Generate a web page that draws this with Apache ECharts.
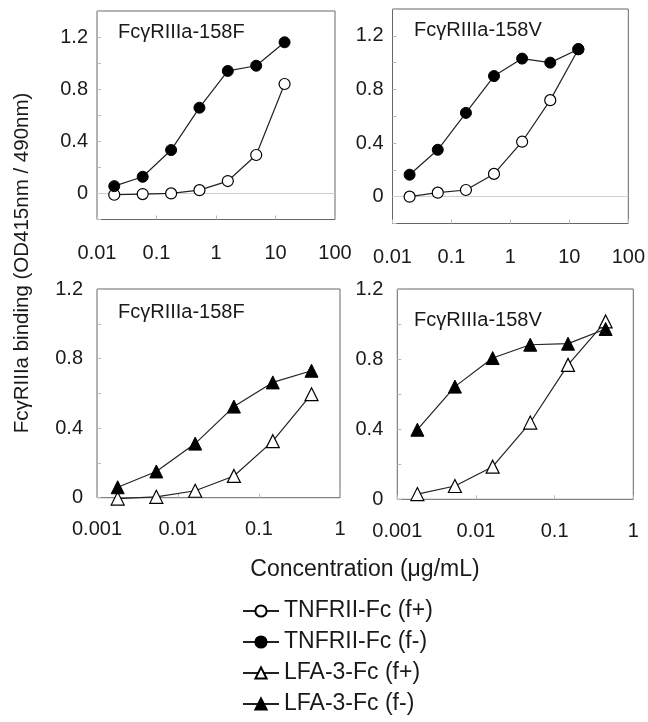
<!DOCTYPE html>
<html>
<head>
<meta charset="utf-8">
<script src="https://cdn.jsdelivr.net/npm/echarts@6/dist/echarts.min.js"></script>
<style>html,body{margin:0;padding:0;background:#fff}#c{width:648px;height:722px}</style>
</head>
<body>
<div id="c"></div>
<script>
// ---- data ----
const xTop = [0.0195, 0.0586, 0.176, 0.527, 1.58, 4.74, 14.2];
const xBot = [0.0018, 0.0054, 0.0163, 0.049, 0.148, 0.445];
const tnfr158F_fplus  = [-0.01, -0.005, 0, 0.025, 0.095, 0.295, 0.84];
const tnfr158F_fminus = [0.056, 0.128, 0.333, 0.658, 0.94, 0.98, 1.16];
const tnfr158V_fplus  = [0, 0.03, 0.05, 0.17, 0.41, 0.72, 1.1];
const tnfr158V_fminus = [0.164, 0.35, 0.625, 0.9, 1.03, 1.0, 1.1];
const lfa158F_fplus   = [-0.005, 0.005, 0.04, 0.125, 0.325, 0.595];
const lfa158F_fminus  = [0.06, 0.151, 0.311, 0.524, 0.663, 0.73];
const lfa158V_fplus   = [0.03, 0.076, 0.186, 0.438, 0.767, 1.015];
const lfa158V_fminus  = [0.397, 0.643, 0.806, 0.882, 0.888, 0.972];
const yTickLabels = ['0', '0.4', '0.8', '1.2'];
const xTopTickLabels = ['0.01', '0.1', '1', '10', '100'];
const xBotTickLabels = ['0.001', '0.01', '0.1', '1'];
const panelLabels = ['Fc\u03b3RIIIa-158F', 'Fc\u03b3RIIIa-158V', 'Fc\u03b3RIIIa-158F', 'Fc\u03b3RIIIa-158V'];
const seriesNames = ['TNFRII-Fc (f+)', 'TNFRII-Fc (f-)', 'LFA-3-Fc (f+)', 'LFA-3-Fc (f-)'];
const yTitle = 'Fc\u03b3RIIIa binding (OD415nm / 490nm)';
const xTitle = 'Concentration (\u03bcg/mL)';

// ---- styles ----
const FONT = 'Liberation Sans, Arial, Helvetica, sans-serif';
const TXT = '#1a1a1a';
const grids = [
  {left: 97, top: 11, width: 238, height: 208.5},
  {left: 392.5, top: 9, width: 239.3, height: 214.5},
  {left: 97, top: 289, width: 243, height: 208.7},
  {left: 397.3, top: 289, width: 236, height: 210.3}
];
const yLab = v => { const s = String(Math.round(v * 10) / 10); return yTickLabels.includes(s) ? s : ''; };
const xLab = labels => v => { const s = String(+(+v).toPrecision(2)); return labels.includes(s) ? s : ''; };

function xAxis(i, top) {
  return {
    gridIndex: i, type: 'log', logBase: 10,
    min: top ? 0.01 : 0.001, max: top ? 100 : 1,
    axisLine: {show: false, onZero: false},
    axisTick: {show: true, inside: true, length: 4, lineStyle: {color: '#bbb'}},
    splitLine: {show: false}, minorTick: {show: false},
    axisLabel: {show: true, margin: top ? 24 : 22, color: TXT, fontFamily: FONT, fontSize: 20,
      showMinLabel: true, showMaxLabel: true,
      formatter: xLab(top ? xTopTickLabels : xBotTickLabels)}
  };
}
function yAxis(i, top) {
  return {
    gridIndex: i, type: 'value',
    min: top ? -0.2 : 0, max: top ? 1.4 : 1.2, interval: 0.2,
    axisLine: {show: false},
    axisTick: {show: true, inside: true, length: 4, lineStyle: {color: '#bbb'}},
    splitLine: {show: false},
    axisLabel: {show: true, margin: top ? 9 : 14, color: TXT, fontFamily: FONT, fontSize: 20,
      padding: top ? [13, 0, 0, 0] : [3, 0, 0, 0],
      showMinLabel: true, showMaxLabel: true, formatter: yLab}
  };
}
const openStyle = {color: '#fff', borderColor: '#000', borderWidth: 1.2};
const fillStyle = {color: '#000', borderColor: '#000', borderWidth: 1};
function ser(name, i, xs, ys, symbol, open, zeroLine) {
  const s = {
    name, type: 'line', xAxisIndex: i, yAxisIndex: i,
    data: xs.map((x, k) => [x, ys[k]]),
    symbol, symbolSize: symbol === 'circle' ? 11 : 13,
    showAllSymbol: true, clip: false,
    lineStyle: {color: '#222', width: 1.2},
    itemStyle: open ? openStyle : fillStyle,
    emphasis: {disabled: true},
    animation: false, z: open ? 2 : 3
  };
  if (zeroLine) {
    s.markLine = {silent: true, symbol: 'none', label: {show: false},
      lineStyle: {color: '#cfcfcf', type: 'solid', width: 1}, data: [{yAxis: 0}], z: 1, animation: false};
  }
  return s;
}

const labelPos = [[118, 32], [414, 30], [118, 312], [414, 320]];
const graphics = panelLabels.map((t, k) => ({
  type: 'text', x: labelPos[k][0], y: labelPos[k][1],
  style: {text: t, font: '20px ' + FONT, fill: TXT, textAlign: 'left', textVerticalAlign: 'middle'}
}));
graphics.push({type: 'text', x: 22, y: 263, rotation: Math.PI / 2,
  style: {text: yTitle, font: '20.5px ' + FONT, fill: TXT, textAlign: 'center', textVerticalAlign: 'middle'}});
graphics.push({type: 'text', x: 365, y: 570,
  style: {text: xTitle, font: '23px ' + FONT, fill: TXT, textAlign: 'center', textVerticalAlign: 'middle'}});

const option = {
  backgroundColor: '#fff',
  animation: false,
  grid: grids.map(g => Object.assign({show: true, borderColor: '#666', borderWidth: 1, backgroundColor: 'transparent'}, g)),
  xAxis: [xAxis(0, true), xAxis(1, true), xAxis(2, false), xAxis(3, false)],
  yAxis: [yAxis(0, true), yAxis(1, true), yAxis(2, false), yAxis(3, false)],
  legend: {
    data: seriesNames, orient: 'vertical', left: 242, top: 598, padding: 0,
    itemWidth: 36, itemHeight: 14, itemGap: 5, height: 124,
    textStyle: {fontFamily: FONT, fontSize: 23, color: TXT, lineHeight: 26},
    selectedMode: false
  },
  graphic: graphics,
  series: [
    ser(seriesNames[0], 0, xTop, tnfr158F_fplus, 'circle', true, true),
    ser(seriesNames[1], 0, xTop, tnfr158F_fminus, 'circle', false, false),
    ser(seriesNames[0], 1, xTop, tnfr158V_fplus, 'circle', true, true),
    ser(seriesNames[1], 1, xTop, tnfr158V_fminus, 'circle', false, false),
    ser(seriesNames[2], 2, xBot, lfa158F_fplus, 'triangle', true, false),
    ser(seriesNames[3], 2, xBot, lfa158F_fminus, 'triangle', false, false),
    ser(seriesNames[2], 3, xBot, lfa158V_fplus, 'triangle', true, false),
    ser(seriesNames[3], 3, xBot, lfa158V_fminus, 'triangle', false, false)
  ]
};
const chart = echarts.init(document.getElementById('c'), null, {renderer: 'canvas'});
chart.setOption(option);
</script>
</body>
</html>
